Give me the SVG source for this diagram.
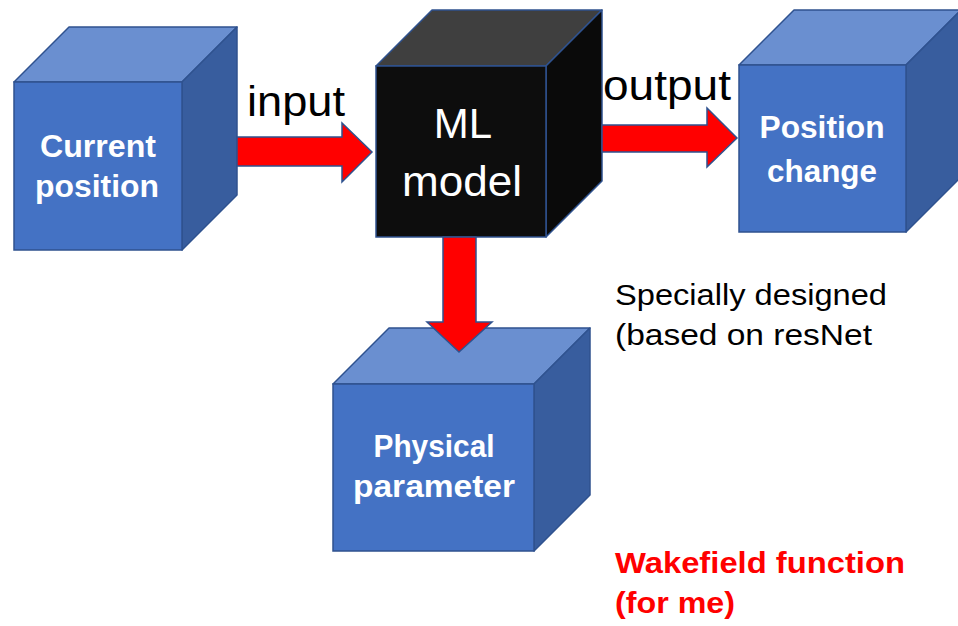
<svg xmlns="http://www.w3.org/2000/svg" width="958" height="626" viewBox="0 0 958 626">
  <style>
    .front { fill: #4472C4; stroke: #2F528F; stroke-width: 1.5; }
    .top { fill: #6A8FD0; stroke: #2F528F; stroke-width: 1.5; stroke-linejoin: round; }
    .side { fill: #385D9E; stroke: #2F528F; stroke-width: 1.5; stroke-linejoin: round; }
    .mfront { fill: #0D0D0D; stroke: #2F528F; stroke-width: 1.5; }
    .mtop { fill: #3F3F3F; stroke: #2F528F; stroke-width: 1.5; stroke-linejoin: round; }
    .mside { fill: #0A0A0A; stroke: #2F528F; stroke-width: 1.5; stroke-linejoin: round; }
    .arrow { fill: #FF0000; stroke: #2F528F; stroke-width: 1.5; stroke-linejoin: miter; }
    .label { font-family: "Liberation Sans", Arial, sans-serif; font-weight: bold; font-size: 32px; fill: #FFFFFF; text-anchor: middle; }
    .mlabel { font-family: "Liberation Sans", Arial, sans-serif; font-size: 42px; fill: #FFFFFF; text-anchor: middle; }
    .edge { font-family: "Liberation Sans", Arial, sans-serif; font-size: 42px; fill: #000000; }
    .note { font-family: "Liberation Sans", Arial, sans-serif; font-size: 30px; fill: #000000; }
    .warn { font-family: "Liberation Sans", Arial, sans-serif; font-weight: bold; font-size: 30px; fill: #FF0000; }
  </style>

  <rect width="958" height="626" fill="#FFFFFF"/>

  <g id="current-position">
    <path class="top" d="M14,82 L69,27 L237,27 L182,82 Z"/>
    <path class="side" d="M182,82 L237,27 L237,195 L182,250 Z"/>
    <rect class="front" x="14" y="82" width="168" height="168"/>
    <text class="label" x="98" y="157" textLength="116" lengthAdjust="spacingAndGlyphs">Current</text>
    <text class="label" x="97" y="197" textLength="124" lengthAdjust="spacingAndGlyphs">position</text>
  </g>

  <g id="ml-model">
    <path class="mtop" d="M376,66 L432,10 L602,10 L546,66 Z"/>
    <path class="mside" d="M546,66 L602,10 L602,181 L546,237 Z"/>
    <rect class="mfront" x="376" y="66" width="170" height="171"/>
    <text class="mlabel" x="463" y="138">ML</text>
    <text class="mlabel" x="462" y="196" textLength="120" lengthAdjust="spacingAndGlyphs">model</text>
  </g>

  <g id="position-change">
    <path class="top" d="M739,65 L794,10 L961,10 L906,65 Z"/>
    <path class="side" d="M906,65 L961,10 L961,177 L906,232 Z"/>
    <rect class="front" x="739" y="65" width="167" height="167"/>
    <text class="label" x="822" y="138" textLength="125" lengthAdjust="spacingAndGlyphs">Position</text>
    <text class="label" x="822" y="182" textLength="110" lengthAdjust="spacingAndGlyphs">change</text>
  </g>

  <g id="physical-parameter">
    <path class="top" d="M333,384 L389,328 L590,328 L534,384 Z"/>
    <path class="side" d="M534,384 L590,328 L590,495 L534,551 Z"/>
    <rect class="front" x="333" y="384" width="201" height="167"/>
    <text class="label" x="434" y="457" textLength="121" lengthAdjust="spacingAndGlyphs">Physical</text>
    <text class="label" x="434" y="497" textLength="162" lengthAdjust="spacingAndGlyphs">parameter</text>
  </g>

  <g id="connectors">
    <polygon class="arrow" points="237,137 342,137 342,123 372,152 342,182 342,166 237,166"/>
    <polygon class="arrow" points="602,125 707,125 707,108 737,138 707,167 707,152 602,152"/>
    <polygon class="arrow" points="443,237 476,237 476,322 492,322 459,352 427,322 443,322"/>
    <text class="edge" x="247" y="116" textLength="98" lengthAdjust="spacingAndGlyphs">input</text>
    <text class="edge" x="603" y="100" textLength="128" lengthAdjust="spacingAndGlyphs">output</text>
  </g>

  <g id="notes">
    <text class="note" x="615" y="305" textLength="272" lengthAdjust="spacingAndGlyphs">Specially designed</text>
    <text class="note" x="615" y="345" textLength="257" lengthAdjust="spacingAndGlyphs">(based on resNet</text>
    <text class="warn" x="615" y="573" textLength="290" lengthAdjust="spacingAndGlyphs">Wakefield function</text>
    <text class="warn" x="615" y="613" textLength="120" lengthAdjust="spacingAndGlyphs">(for me)</text>
  </g>
</svg>
